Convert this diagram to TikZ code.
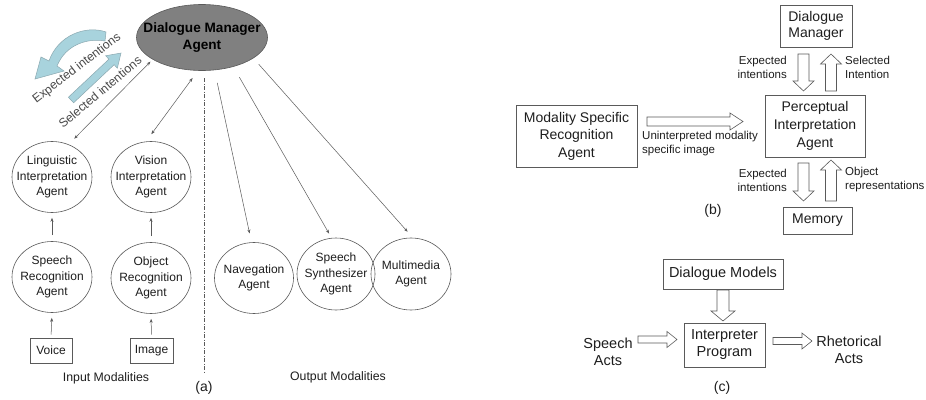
\documentclass[tikz,border=0pt]{standalone}
\usepackage{fontspec}
\setmainfont{Liberation Sans}
\usetikzlibrary{shapes.geometric,arrows.meta,calc}
\definecolor{ln}{HTML}{5A5A5A}
\definecolor{txt}{HTML}{1E1E1E}
\definecolor{dmfill}{HTML}{808080}
\definecolor{bluef}{HTML}{A8D3DD}
\definecolor{blueo}{HTML}{8AA8B0}
\definecolor{rottxt}{HTML}{4A4A4A}
\newcommand{\fatarrow}[8]{\begin{scope}[shift={(#2,#3)},rotate=#4]
\draw[#1] (0,-#6) -- ({#5-#8},-#6) -- ({#5-#8},-#7) -- (#5,0) -- ({#5-#8},#7) -- ({#5-#8},#6) -- (0,#6) -- cycle;
\end{scope}}
\begin{document}
\begin{tikzpicture}[x=1pt,y=-1pt,
 every node/.append style={text=txt},
 agent/.style={ellipse,draw=ln,line width=0.6pt,minimum width=80pt,minimum height=71pt,inner xsep=-15pt,inner ysep=-10pt,align=center,font=\fontsize{12}{15.5}\selectfont},
 box/.style={draw=ln,line width=0.6pt,inner sep=0pt,align=center},
 thinl/.style={ln,line width=0.5pt},
 dbl/.style={thinl,{Stealth[length=4pt,width=3pt]}-{Stealth[length=4pt,width=3pt]}},
 one/.style={thinl,-{Stealth[length=4pt,width=3pt]}},
 hollow/.style={draw=ln,line width=0.6pt,fill=white},
 bluearr/.style={draw=blueo,line width=0.5pt,fill=bluef},
 lbl/.style={inner sep=0pt,font=\fontsize{11.5}{14}\selectfont},
 bigl/.style={inner sep=0pt,align=center,font=\fontsize{14.5}{17.5}\selectfont},
 captxt/.style={inner sep=0pt,font=\fontsize{12.3}{14}\selectfont},
 tagtxt/.style={inner sep=0pt,font=\fontsize{14}{16}\selectfont}]
\useasboundingbox[fill=white] (0,0) rectangle (926,399);

% ---------- panel (a) ----------
\node[ellipse,draw=ln,fill=dmfill,line width=0.6pt,minimum width=131pt,minimum height=66pt,inner xsep=-20pt,inner ysep=-5pt,align=center,text=black,font=\bfseries\fontsize{13.6}{17}\selectfont] (dm) at (202,37.5) {Dialogue Manager\\Agent};

% blue arrows
\draw[bluearr] (106,32) .. controls (86,25) and (58,35) .. (49,61) -- (41,57) -- (35,79) -- (64,71) -- (57,66) .. controls (66,44) and (88,38) .. (105,41) -- cycle;
\fatarrow{bluearr}{71}{100}{43.2}{68.6}{3.8}{8.5}{13}
\node[rotate=37.6,captxt,text=rottxt] (exi) at (77,68.5) {Expected intentions};
\node[rotate=40,captxt,text=rottxt] (sei) at (100,92) {Selected intentions};

\node[agent] (ling) at (52,177) {Linguistic\\Interpretation\\Agent};
\node[agent] (vis) at (151,177) {Vision\\Interpretation\\Agent};
\node[agent] (sra) at (52,277) {Speech\\Recognition\\Agent};
\node[agent] (ora) at (151,278) {Object\\Recognition\\Agent};
\node[box,minimum width=42pt,minimum height=25pt,font=\fontsize{12}{14}\selectfont] (voice) at (51,350.5) {Voice};
\node[box,minimum width=43pt,minimum height=25pt,font=\fontsize{12}{14}\selectfont] (image) at (151.5,350.5) {Image};

\node[agent,minimum width=79pt] (nav) at (254,278) {Navegation\\Agent};
\node[agent,minimum width=78pt,minimum height=72pt] (ssa) at (336,274) {Speech\\Synthesizer\\Agent};
\node[agent,minimum width=80pt,minimum height=72pt] (mma) at (411,274) {Multimedia\\Agent};

\draw[dbl,shorten <=8pt,shorten >=3pt] (ling.63) -- (dm.204);
\draw[dbl,shorten <=9pt,shorten >=9pt] (vis.98) -- (dm.263);
\draw[one,shorten <=6pt,shorten >=5pt] (sra.north) -- (ling.south);
\draw[one,shorten <=6pt,shorten >=5pt] (ora.north) -- (vis.south);
\draw[one,shorten <=3pt,shorten >=5pt] (voice.north) -- (sra.south);
\draw[one,shorten <=3pt,shorten >=5pt] (image.north) -- (ora.south);

\draw[one,shorten <=13pt,shorten >=9pt] (dm.291) -- (nav.94);
\draw[one,shorten <=12pt,shorten >=5pt] (dm.317) -- (ssa.97);
\draw[one,shorten <=8pt,shorten >=8pt] (dm.338) -- (mma.87);

\coordinate (dtop) at (204,78);
\coordinate (dbot) at (204,374);
\draw[ln,line width=0.6pt,dash pattern=on 4pt off 1.5pt on 1pt off 1.5pt] (dtop) -- (dbot);

\node[captxt] (inm) at (106,378) {Input Modalities};
\node[captxt] (outm) at (338,377) {Output Modalities};
\node[tagtxt] (ta) at (204,388) {(a)};

% ---------- panel (b) ----------
\node[box,minimum width=72pt,minimum height=42pt,font=\fontsize{14}{16.5}\selectfont] (dmb) at (816,26) {Dialogue\\Manager};
\node[box,minimum width=100pt,minimum height=62pt,font=\fontsize{14}{18}\selectfont] (pia) at (815,126) {Perceptual\\Interpretation\\Agent};
\node[box,minimum width=121pt,minimum height=62pt,font=\fontsize{14}{17.5}\selectfont] (msra) at (576.5,136) {Modality Specific\\Recognition\\Agent};
\node[box,minimum width=69pt,minimum height=27pt,font=\fontsize{14}{16}\selectfont] (mem) at (817.5,220.5) {Memory};

\fatarrow{hollow}{647}{121.5}{0}{96}{4.5}{8.5}{13}
\fatarrow{hollow}{803.5}{54}{-90}{37}{5.5}{10.5}{10}
\fatarrow{hollow}{831}{91}{90}{37}{5.5}{10.5}{10}
\fatarrow{hollow}{803.5}{163}{-90}{38}{5.5}{10.5}{10}
\fatarrow{hollow}{831}{201}{90}{41}{5.5}{10.5}{10}

\node[lbl,align=right,anchor=east] (l1) at (787,67) {Expected\\intentions};
\node[lbl,align=left,anchor=west] (l2) at (845,67) {Selected\\Intention};
\node[lbl,align=right,anchor=east] (l3) at (787,180) {Expected\\intentions};
\node[lbl,align=left,anchor=west] (l4) at (845,180) {Object\\representations};
\node[lbl,align=left,anchor=west] (l5) at (642,144) {Uninterpreted modality\\specific image};
\node[tagtxt] (tb) at (713,211) {(b)};

% ---------- panel (c) ----------
\node[box,minimum width=120pt,minimum height=30pt,font=\fontsize{14.5}{17}\selectfont] (dmod) at (723,274) {Dialogue Models};
\node[box,minimum width=81pt,minimum height=44pt,font=\fontsize{14.5}{17}\selectfont] (ip) at (724.5,345) {Interpreter\\Program};
\node[bigl] (sa) at (608,352) {Speech\\Acts};
\node[bigl] (ra) at (849,350) {Rhetorical\\Acts};
\fatarrow{hollow}{723}{290}{-90}{31}{6}{12}{10}
\fatarrow{hollow}{638}{339.5}{0}{39}{3.5}{8}{10}
\fatarrow{hollow}{773}{341}{0}{39}{3.5}{8}{10}
\node[tagtxt] (tc) at (722,388) {(c)};
\end{tikzpicture}
\end{document}
